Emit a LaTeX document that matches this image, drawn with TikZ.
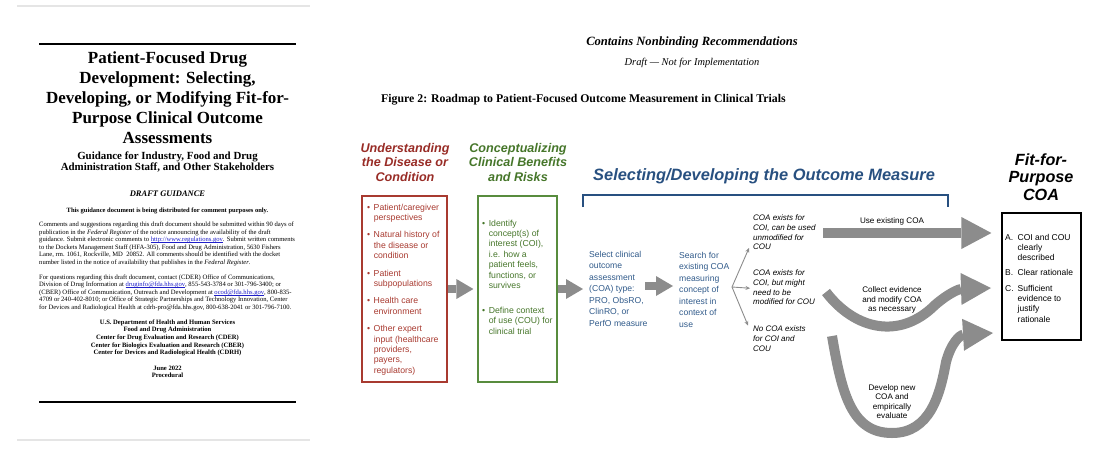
\documentclass[tikz,border=0pt]{standalone}
\usepackage{fontspec}
\setmainfont{Liberation Serif}
\setsansfont{Liberation Sans}
\usepackage{tikz}
\usetikzlibrary{arrows.meta}
\definecolor{udred}{RGB}{152,44,38}
\definecolor{udbox}{RGB}{168,58,48}
\definecolor{ccgreen}{RGB}{70,118,42}
\definecolor{ccbox}{RGB}{88,140,62}
\definecolor{sdblue}{RGB}{40,80,128}
\definecolor{sdtext}{RGB}{48,90,138}
\definecolor{arrowgray}{RGB}{140,140,140}
\definecolor{linkblue}{RGB}{30,30,200}
\tikzstyle{pagerule}=[draw=black!10,line width=1.5pt]
\tikzstyle{covertitle}=[inner sep=0pt,anchor=base,
                        font=\bfseries\fontsize{17}{20}\selectfont]
\tikzstyle{covertext}=[inner sep=0pt,anchor=base west,
                       font=\fontsize{6.6}{7.5}\selectfont]
\tikzstyle{coverbold}=[inner sep=0pt,anchor=base,
                       font=\bfseries\fontsize{6.6}{7.7}\selectfont]
\tikzstyle{head}=[inner sep=0pt,anchor=base,
                  font=\sffamily\bfseries\itshape\fontsize{12.6}{14.5}\selectfont]
\tikzstyle{listbox}=[draw,line width=1.2pt,inner sep=0pt,minimum width=85pt,
                     minimum height=186pt]
\tikzstyle{listtext}=[inner sep=0pt,anchor=base west,
                      font=\sffamily\fontsize{8.7}{10.4}\selectfont]
\tikzstyle{steptext}=[inner sep=0pt,anchor=base west,text=sdtext,
                      font=\sffamily\fontsize{8.6}{11.5}\selectfont]
\tikzstyle{casetext}=[inner sep=0pt,anchor=base west,
                      font=\sffamily\itshape\fontsize{8}{9.8}\selectfont]
\tikzstyle{pathlabel}=[inner sep=0pt,anchor=base,
                       font=\sffamily\fontsize{8.1}{9.6}\selectfont]
\tikzstyle{fatarrow}=[draw=arrowgray,line width=8pt,
                      -{Triangle[width=20pt,length=17pt,line width=0pt]}]
\tikzstyle{bigarrow}=[draw=arrowgray,line width=10pt,
                      -{Triangle[width=32pt,length=30pt,line width=0pt]}]
\tikzstyle{thinarrow}=[draw=arrowgray,line width=0.9pt,
                       -{Stealth[length=4.5pt,width=4pt]}]
\newcommand{\lnk}[1]{\textcolor{linkblue}{\setbox0=\hbox{#1}\rlap{\rule[-1pt]{\wd0}{0.35pt}}\box0}}
\newcommand{\ctab}[1]{\begin{tabular}[t]{@{}c@{}}#1\end{tabular}}
\newcommand{\ltab}[1]{\begin{tabular}[t]{@{}l@{}}#1\end{tabular}}

\begin{document}
\begin{tikzpicture}[x=1pt,y=-1pt]
  \useasboundingbox (0,0) rectangle (1107,450);
  % cover page
  \draw[pagerule] (17,6) -- (310,6);
  \draw[pagerule] (17,440) -- (310,440);
  \draw[line width=2pt] (39,44) -- (296,44);
  \draw[line width=2pt] (39,402) -- (296,402);
  \node (title) at (167.5,63) [covertitle]
    {\ctab{Patient-Focused Drug\\Development: Selecting,\\Developing, or Modifying Fit-for-\\Purpose Clinical Outcome\\Assessments}};
  \node (subtitle) at (167.5,159) [covertitle,font=\bfseries\fontsize{10.9}{11.5}\selectfont]
    {\ctab{Guidance for Industry, Food and Drug\\Administration Staff, and Other Stakeholders}};
  \node (draft) at (167.5,196) [covertitle,font=\bfseries\itshape\fontsize{8.5}{10}\selectfont]
    {DRAFT GUIDANCE};
  \node (purpose) at (167.5,212) [coverbold,font=\bfseries\fontsize{6.5}{7.5}\selectfont]
    {This guidance document is being distributed for comment purposes only.};
  \node (comments) at (39,226.5) [covertext]
    {\ltab{Comments and suggestions regarding this draft document should be submitted within 90 days of\\
     publication in the \textit{Federal Register} of the notice announcing the availability of the draft\\
     guidance. Submit electronic comments to \lnk{http://www.regulations.gov}. Submit written comments\\
     to the Dockets Management Staff (HFA-305), Food and Drug Administration, 5630 Fishers\\
     Lane, rm. 1061, Rockville, MD\ \ 20852. All comments should be identified with the docket\\
     number listed in the notice of availability that publishes in the \textit{Federal Register}.}};
  \node (questions) at (39,279) [covertext]
    {\ltab{For questions regarding this draft document, contact (CDER) Office of Communications,\\
     Division of Drug Information at \lnk{druginfo@fda.hhs.gov}, 855-543-3784 or 301-796-3400; or\\
     (CBER) Office of Communication, Outreach and Development at \lnk{ocod@fda.hhs.gov}, 800-835-\\
     4709 or 240-402-8010; or Office of Strategic Partnerships and Technology Innovation, Center\\
     for Devices and Radiological Health at cdrh-pro@fda.hhs.gov, 800-638-2041 or 301-796-7100.}};
  \node (agency) at (167.5,324) [coverbold]
    {\ctab{U.S. Department of Health and Human Services\\Food and Drug Administration\\
     Center for Drug Evaluation and Research (CDER)\\Center for Biologics Evaluation and Research (CBER)\\
     Center for Devices and Radiological Health (CDRH)}};
  \node (date) at (167.5,370) [coverbold] {\ctab{June 2022\\Procedural}};

  % figure page
  \node (nonbind) at (692,45) [covertitle,font=\bfseries\itshape\fontsize{12.6}{14}\selectfont]
    {Contains Nonbinding Recommendations};
  \node (notimpl) at (692,65) [covertitle,font=\itshape\fontsize{10.4}{12}\selectfont]
    {Draft --- Not for Implementation};
  \node (figtitle) at (381,102.5) [covertitle,anchor=base west,font=\bfseries\fontsize{11.8}{13}\selectfont]
    {Figure 2: Roadmap to Patient-Focused Outcome Measurement in Clinical Trials};

  \node (redhead) at (405,152) [head,text=udred] {\ctab{Understanding\\the Disease or\\Condition}};
  \node (greenhead) at (518,152) [head,text=ccgreen] {\ctab{Conceptualizing\\Clinical Benefits\\and Risks}};
  \node (bluehead) at (593,180.5) [head,anchor=base west,text=sdblue,
                                   font=\sffamily\bfseries\itshape\fontsize{16.4}{18}\selectfont]
    {Selecting/Developing the Outcome Measure};
  \node (fithead) at (1041,165) [head,text=black,font=\sffamily\bfseries\itshape\fontsize{16.2}{17.8}\selectfont]
    {\ctab{Fit-for-\\Purpose\\COA}};

  \node (redbox) at (404.5,289) [listbox,draw=udbox] {};
  \node (greenbox) at (517.5,289) [listbox,draw=ccbox,minimum width=79pt] {};
  \node (fitbox) at (1041.5,276.5) [listbox,draw=black,minimum width=79pt,minimum height=127pt] {};

  \node (redlist) at (367,210) [listtext,text=udbox]
    {\begin{tabular}[t]{@{}l@{\hspace{3.5pt}}l@{}}
     \textbullet & Patient/caregiver\\ & perspectives\\[7pt]
     \textbullet & Natural history of\\ & the disease or\\ & condition\\[7pt]
     \textbullet & Patient\\ & subpopulations\\[7pt]
     \textbullet & Health care\\ & environment\\[7pt]
     \textbullet & Other expert\\ & input (healthcare\\ & providers,\\ & payers,\\ & regulators)
     \end{tabular}};
  \node (greenlist) at (482,226) [listtext,text=ccgreen]
    {\begin{tabular}[t]{@{}l@{\hspace{3.5pt}}l@{}}
     \textbullet & Identify\\ & concept(s) of\\ & interest (COI),\\ & i.e. how a\\ & patient feels,\\
                 & functions, or\\ & survives\\[14.5pt]
     \textbullet & Define context\\ & of use (COU) for\\ & clinical trial
     \end{tabular}};
  \node (fitlist) at (1005,240) [listtext,text=black,font=\sffamily\fontsize{8.5}{10.3}\selectfont]
    {\begin{tabular}[t]{@{}l@{\hspace{4pt}}l@{}}
     A. & COI and COU\\ & clearly\\ & described\\[5pt]
     B. & Clear rationale\\[5pt]
     C. & Sufficient\\ & evidence to\\ & justify\\ & rationale
     \end{tabular}};

  \draw[line width=1.2pt,draw=sdblue] (583,207) -- (583,195) -- (948,195) -- (948,207);

  \node (select) at (589,257) [steptext]
    {\ltab{Select clinical\\outcome\\assessment\\(COA) type:\\PRO, ObsRO,\\ClinRO, or\\PerfO measure}};
  \node (search) at (679,258) [steptext]
    {\ltab{Search for\\existing COA\\measuring\\concept of\\interest in\\context of\\use}};

  \node (coause) at (753,220.5) [casetext]
    {\ltab{COA exists for\\COI, can be used\\unmodified for\\COU}};
  \node (coamod) at (753,275.5) [casetext]
    {\ltab{COA exists for\\COI, but might\\need to be\\modified for COU}};
  \node (coanew) at (753,331.5) [casetext]
    {\ltab{No COA exists\\for COI and\\COU}};

  \node (uselbl) at (892,223.5) [pathlabel] {Use existing COA};
  \node (modlbl) at (892,292.5) [pathlabel] {\ctab{Collect evidence\\and modify COA\\as necessary}};
  \node (newlbl) at (892,390.5) [pathlabel,font=\sffamily\fontsize{8.1}{9.4}\selectfont]
    {\ctab{Develop new\\COA and\\empirically\\evaluate}};

  \coordinate (fork) at (732,287);
  \coordinate (selout) at (645,286);
  \coordinate (srchin) at (673,286);
  \coordinate (usestart) at (823,233);
  \coordinate (modstart) at (826,292);
  \coordinate (newstart) at (832,336);

  \draw[fatarrow] (redbox.east) -- ([xshift=-4pt]greenbox.west);
  \draw[fatarrow] (greenbox.east) -- (583,289);
  \draw[fatarrow] (selout) -- (srchin);

  \draw[thinarrow] (fork) -- ([shift={(-4,27.5)}]coause.base west);
  \draw[thinarrow] (fork) -- ([shift={(-3,0)}]coamod.west);
  \draw[thinarrow] (fork) -- ([shift={(-5,-6)}]coanew.base west);

  \draw[bigarrow] (usestart) -- ([xshift=-10pt]usestart -| fitbox.west);
  \draw[bigarrow] (modstart) .. controls (855,330) and (900,340) .. (935,305)
                             .. controls (950,292) and (960,289) .. (991,288);
  \draw[bigarrow] (newstart) .. controls (842,395) and (852,433) .. (892,433)
                             .. controls (930,433) and (940,395) .. (946,362)
                             .. controls (951,343) and (960,335) .. (993,333);
\end{tikzpicture}
\end{document}
